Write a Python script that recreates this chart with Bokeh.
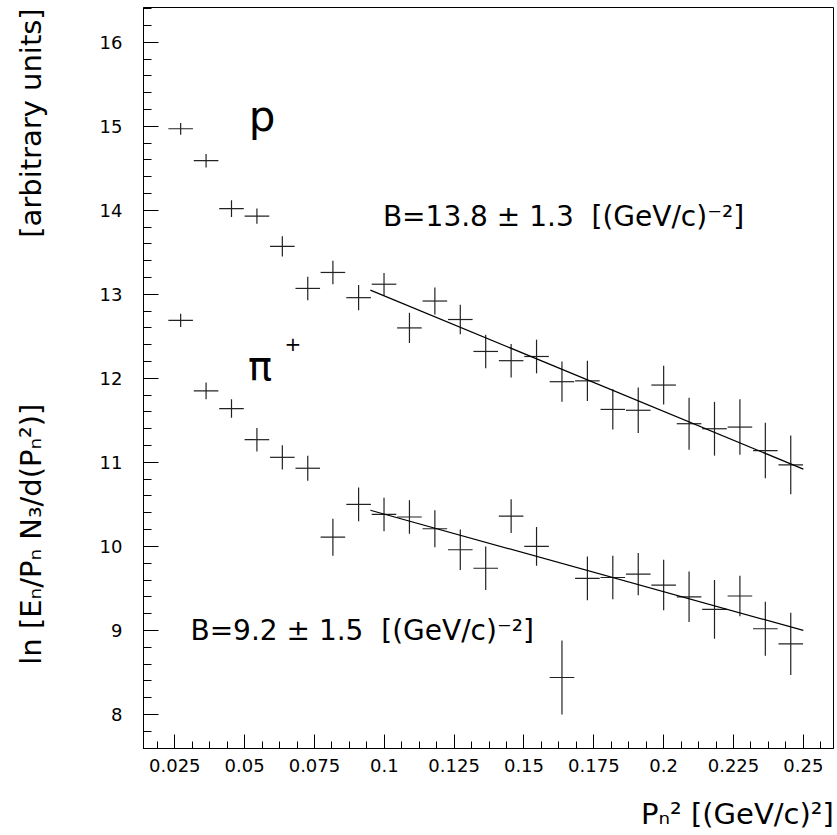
import math
import numpy as np
from bokeh.plotting import figure
from bokeh.models import ColumnDataSource, Range1d, FixedTicker, Label
from bokeh.embed import file_html
from bokeh.resources import INLINE

# ---- data ----
x_vals = [0.0271, 0.0362, 0.0453, 0.0544, 0.0635, 0.0726, 0.0816, 0.0908, 0.0999,
          0.1090, 0.1181, 0.1272, 0.1363, 0.1454, 0.1545, 0.1636, 0.1727, 0.1818,
          0.1909, 0.2000, 0.2091, 0.2182, 0.2273, 0.2364, 0.2455]
x_half_bin = 0.0044

p_vals = [14.97, 14.59, 14.02, 13.93, 13.57, 13.07, 13.26, 12.96, 13.12, 12.60,
          12.92, 12.70, 12.32, 12.21, 12.26, 11.96, 11.97, 11.63, 11.62, 11.92,
          11.46, 11.40, 11.42, 11.14, 10.97]
p_errs = [0.07, 0.08, 0.10, 0.09, 0.12, 0.14, 0.14, 0.15, 0.135, 0.18,
          0.16, 0.175, 0.20, 0.20, 0.20, 0.24, 0.24, 0.24, 0.27, 0.23,
          0.31, 0.32, 0.33, 0.33, 0.35]

pi_vals = [12.69, 11.85, 11.64, 11.27, 11.06, 10.93, 10.11, 10.50, 10.38, 10.35,
           10.21, 9.96, 9.74, 10.36, 10.00, 8.44, 9.62, 9.63, 9.67, 9.54,
           9.40, 9.25, 9.41, 9.02, 8.84]
pi_errs = [0.08, 0.10, 0.11, 0.14, 0.145, 0.15, 0.22, 0.20, 0.20, 0.20,
           0.22, 0.24, 0.26, 0.20, 0.23, 0.44, 0.26, 0.26, 0.25, 0.30,
           0.30, 0.35, 0.24, 0.32, 0.37]

fit_x = [0.095, 0.25]
p_fit = [13.05, 10.92]
pi_fit = [10.43, 9.00]

x_ticks = [0.025, 0.05, 0.075, 0.1, 0.125, 0.15, 0.175, 0.2, 0.225, 0.25]
x_tick_labels = ["0.025", "0.05", "0.075", "0.1", "0.125", "0.15", "0.175", "0.2", "0.225", "0.25"]
y_ticks = [8, 9, 10, 11, 12, 13, 14, 15, 16]

X_RANGE = (0.0138, 0.2608)
Y_RANGE = (7.595, 16.413)

FONT = "DejaVu Sans"
NB = "\u00a0"

p = figure(width=835, height=835, output_backend="svg", toolbar_location=None,
           x_range=Range1d(*X_RANGE), y_range=Range1d(*Y_RANGE),
           min_border_left=143, min_border_right=2, min_border_top=7,
           min_border_bottom=87)
p.grid.visible = False
p.background_fill_color = "white"
p.border_fill_color = "white"
p.outline_line_color = "black"
p.outline_line_width = 1
p.outline_line_alpha = 1.0

minor_x = [float(v) for v in np.arange(0.0125, 0.2626, 0.00625)]
minor_y = [float(v) for v in np.arange(7.6, 16.41, 0.2)]
p.xaxis.ticker = FixedTicker(ticks=x_ticks, minor_ticks=minor_x)
p.yaxis.ticker = FixedTicker(ticks=y_ticks, minor_ticks=minor_y)
p.xaxis.major_label_overrides = {t: l for t, l in zip(x_ticks, x_tick_labels)}

for ax in (p.xaxis[0], p.yaxis[0]):
    ax.axis_line_color = "black"
    ax.major_tick_line_color = "black"
    ax.minor_tick_line_color = "black"
    ax.major_tick_out = 0
    ax.minor_tick_out = 0
    ax.major_label_text_font = FONT
    ax.major_label_text_font_size = "18px"
    ax.major_label_text_color = "black"
    ax.axis_label_text_font = FONT
    ax.axis_label_text_font_size = "29px"
    ax.axis_label_text_font_style = "normal"
    ax.axis_label_text_color = "black"
p.xaxis.major_tick_in = 14
p.xaxis.minor_tick_in = 7
p.yaxis.major_tick_in = 15
p.yaxis.minor_tick_in = 8
p.xaxis.major_label_standoff = 10
p.yaxis.major_label_standoff = 21

# centred axis titles, shifted with non-breaking spaces to the reference positions
p.xaxis.axis_label = NB * 54 + "Pₙ² [(GeV/c)²]"
p.xaxis.axis_label_standoff = 22
p.yaxis.axis_label = NB * 9 + "ln [Eₙ/Pₙ N₃/d(Pₙ²)]" + NB * 18 + "[arbitrary units]"
p.yaxis.axis_label_standoff = 49


def crosses(yv, ye):
    xa = np.array(x_vals)
    ya = np.array(yv)
    ea = np.array(ye)
    return ColumnDataSource(dict(x=xa, y=ya, xl=xa - x_half_bin, xr=xa + x_half_bin,
                                 yl=ya - ea, yh=ya + ea))


for yv, ye in ((p_vals, p_errs), (pi_vals, pi_errs)):
    src = crosses(yv, ye)
    p.segment(x0="xl", y0="y", x1="xr", y1="y", source=src, line_color="#222222", line_width=1.2)
    p.segment(x0="x", y0="yl", x1="x", y1="yh", source=src, line_color="#222222", line_width=1.2)

p.line(fit_x, p_fit, line_color="black", line_width=1.2)
p.line(fit_x, pi_fit, line_color="black", line_width=1.2)

# in-plot texts
p.add_layout(Label(x=0.0515, y=15.11, text="p", text_font=FONT, text_font_size="42px",
                   text_color="black", text_baseline="alphabetic"))
p.add_layout(Label(x=0.0512, y=12.15, text="π", text_font=FONT, text_font_size="40px",
                   text_color="black", text_baseline="alphabetic"))
p.add_layout(Label(x=0.0643, y=12.41, text="+", text_font=FONT, text_font_size="20px",
                   text_color="black", text_baseline="middle"))
p.add_layout(Label(x=0.0995, y=13.93, text="B=13.8 ± 1.3" + NB + NB + "[(GeV/c)⁻²]", text_font=FONT,
                   text_font_size="28px", text_color="black", text_baseline="middle"))
p.add_layout(Label(x=0.0306, y=9.00, text="B=9.2 ± 1.5" + NB + NB + "[(GeV/c)⁻²]", text_font=FONT,
                   text_font_size="28px", text_color="black", text_baseline="middle"))

open("out.html", "w").write(file_html(p, INLINE))
